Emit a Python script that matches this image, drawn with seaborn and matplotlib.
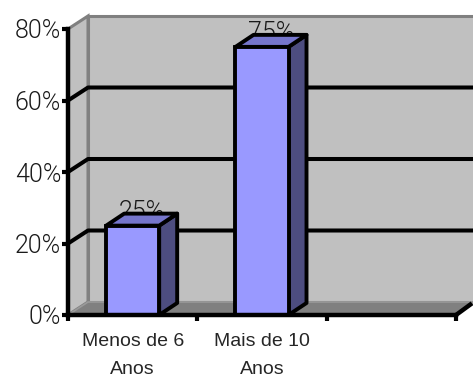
import matplotlib
matplotlib.use("Agg")
import matplotlib.pyplot as plt
from matplotlib.patches import Polygon
import seaborn as sns
import pandas as pd

# Chart data
categories = ["Menos de 6\nAnos", "Mais de 10\nAnos", ""]
values = [25, 75]
y_ticks = [0, 20, 40, 60, 80]
y_labels = ["0%", "20%", "40%", "60%", "80%"]

sns.set_style("white")
plt.rcParams["font.family"] = ["Liberation Sans", "DejaVu Sans"]
num_font = dict(family=["Roboto", "Liberation Sans"], weight=300)

W, H = 473, 378
fig = plt.figure(figsize=(W / 100, H / 100), dpi=100)
ax = fig.add_axes([68 / W, 1 - 315 / H, 388 / W, 286 / H])

df = pd.DataFrame({"cat": categories[:len(values)], "val": values})
sns.barplot(data=df, x="cat", y="val", order=categories, ax=ax,
            color="#9999FF", saturation=1, width=0.41,
            edgecolor="black", linewidth=2.8, zorder=5)
ax.set_xlim(-0.5, 2.5)
ax.set_ylim(0, 80)

# depth offsets (data units) for the pseudo-3D look
px_x = 388 / 3.0          # pixels per category
px_y = 286 / 80.0         # pixels per percent
wdx, wdy = 20 / px_x, 13 / px_y     # walls
bdx, bdy = 18 / px_x, 12 / px_y     # bars

x0, x1 = -0.5, 2.5
wall_edge = "#808080"

# back wall
ax.add_patch(Polygon([(x0 + wdx, wdy), (x1 + wdx, wdy), (x1 + wdx, 80 + wdy),
                      (x0 + wdx, 80 + wdy)], closed=True, facecolor="#C0C0C0",
                     edgecolor=wall_edge, linewidth=2.2, clip_on=False, zorder=0))
# left side wall
ax.add_patch(Polygon([(x0, 0), (x0 + wdx, wdy), (x0 + wdx, 80 + wdy), (x0, 80)],
                     closed=True, facecolor="#C0C0C0", edgecolor=wall_edge,
                     linewidth=2.2, clip_on=False, zorder=0.5))
# floor
ax.add_patch(Polygon([(x0, 0), (x0 + wdx, wdy), (x1 + wdx, wdy), (x1, 0)],
                     closed=True, facecolor="#808080", edgecolor="#9A9A9A",
                     linewidth=1.2, clip_on=False, zorder=0.6))

# gridlines on side and back walls
for v in y_ticks[1:-1]:
    ax.plot([x0, x0 + wdx, x1 + wdx], [v, v + wdy, v + wdy], color="black",
            linewidth=2.9, solid_capstyle="butt", clip_on=False, zorder=1)

# bar sides, tops and value labels
for bar, v in zip(ax.patches, values):
    bx = bar.get_x()
    bw = bar.get_width()
    top = bar.get_height()
    side = Polygon([(bx + bw, 0), (bx + bw + bdx, bdy), (bx + bw + bdx, top + bdy),
                    (bx + bw, top)], closed=True, facecolor="#4D4D80",
                   edgecolor="black", linewidth=2.8, joinstyle="round",
                   clip_on=False, zorder=4)
    cap = Polygon([(bx, top), (bx + bdx, top + bdy), (bx + bw + bdx, top + bdy),
                   (bx + bw, top)], closed=True, facecolor="#7676CC",
                  edgecolor="black", linewidth=2.8, joinstyle="round",
                  clip_on=False, zorder=4)
    ax.add_patch(side)
    ax.add_patch(cap)
    ax.text(bx + bw / 2 + bdx / 2, top + bdy / 2 + 0.2, f"{v}%", ha="center",
            va="baseline", fontsize=18, color="#1A1A1A", zorder=3.5, **num_font)

# axes lines
for s in ["top", "right"]:
    ax.spines[s].set_visible(False)
for s in ["left", "bottom"]:
    ax.spines[s].set_color("black")
    ax.spines[s].set_linewidth(3.2)
    ax.spines[s].set_zorder(6)
ax.plot([x1, x1 + wdx * 0.8], [0, wdy * 0.9], color="black", linewidth=3.2,
        solid_capstyle="butt", clip_on=False, zorder=6)

ax.set_yticks(y_ticks)
ax.set_yticklabels(y_labels, fontsize=18, color="#1A1A1A", **num_font)
ax.tick_params(axis="y", length=4, width=3, color="black", pad=1, left=True)

ax.set_xticks([0, 1])
ax.set_xticklabels(categories[:2], fontsize=14)
ax.set_xticks([-0.5, 0.5, 1.5, 2.5], minor=True)
ax.tick_params(axis="x", which="major", length=0, pad=13)
ax.tick_params(axis="x", which="minor", length=4, width=3, color="black", bottom=True)
for t in ax.get_xticklabels():
    t.set_linespacing(1.85)
ax.set_xlabel("")
ax.set_ylabel("")

fig.savefig("out.png", dpi=100)
